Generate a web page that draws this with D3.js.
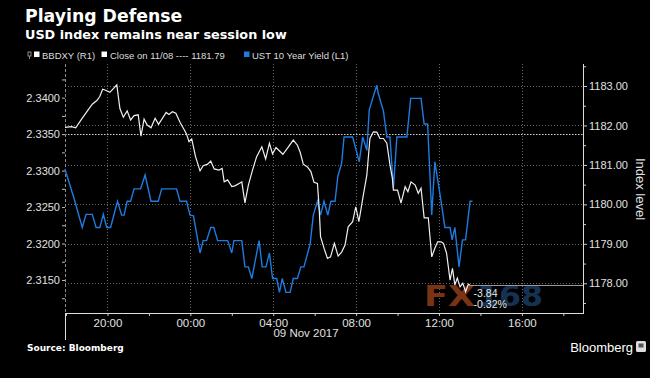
<!DOCTYPE html>
<html><head><meta charset="utf-8">
<script src="https://cdn.jsdelivr.net/npm/d3@7"></script>
<style>
html,body{margin:0;padding:0;background:#000;}
svg{display:block;}
</style></head>
<body>
<svg id="chart" width="650" height="378"></svg>
<script>
// ---- DATA ----
const title = "Playing Defense";
const subtitle = "USD index remains near session low";
const closeValue = 1181.79;
const changeLabel = "-3.84";
const changePctLabel = "-0.32%";
const leftTicks = [2.3150, 2.3200, 2.3250, 2.3300, 2.3350, 2.3400];
const rightTicks = [1178, 1179, 1180, 1181, 1182, 1183];
const xDateLabel = "09 Nov 2017";

// BBDXY (right axis) times (day hh:mm) and values
const bbdxyTimes = ["8 17:57","8 18:16","8 18:28","8 18:45","8 19:02","8 19:16","8 19:30","8 19:38","8 19:46","8 19:53","8 20:07","8 20:27","8 20:36","8 20:46","8 20:57","8 21:07","8 21:17","8 21:29","8 21:37","8 21:46","8 21:55","8 22:06","8 22:18","8 22:28","8 22:50","8 22:58","8 23:08","8 23:18","8 23:30","8 23:43","8 23:49","8 23:56","9 00:04","9 00:15","9 00:28","9 00:37","9 00:50","9 00:59","9 01:09","9 01:23","9 01:32","9 01:38","9 01:48","9 02:00","9 02:09","9 02:21","9 02:29","9 02:38","9 02:48","9 03:00","9 03:12","9 03:27","9 03:38","9 03:49","9 03:58","9 04:08","9 04:28","9 04:44","9 04:58","9 05:10","9 05:18","9 05:27","9 05:39","9 05:49","9 05:58","9 06:08","9 06:13","9 06:17","9 06:27","9 06:37","9 06:46","9 06:57","9 07:08","9 07:18","9 07:28","9 07:37","9 07:50","9 07:59","9 08:08","9 08:21","9 08:31","9 08:40","9 08:50","9 09:00","9 09:09","9 09:19","9 09:29","9 09:38","9 09:45","9 09:48","9 10:00","9 10:10","9 10:22","9 10:30","9 10:39","9 10:51","9 11:00","9 11:08","9 11:17","9 11:29","9 11:39","9 11:48","9 11:56","9 12:06","9 12:13","9 12:22","9 12:32","9 12:39","9 12:46","9 12:53","9 13:01","9 13:09","9 13:17","9 13:25","9 13:30"];
const bbdxyValues = [1181.95,1181.97,1181.94,1182.16,1182.37,1182.54,1182.64,1182.74,1182.92,1182.90,1182.84,1183.03,1182.43,1182.21,1182.37,1182.14,1182.25,1182.27,1181.73,1182.16,1182.01,1181.94,1182.18,1182.03,1182.33,1182.28,1182.35,1182.31,1182.08,1181.88,1181.78,1181.59,1181.66,1181.21,1180.85,1180.98,1181.02,1181.10,1180.90,1180.87,1180.91,1180.57,1180.62,1180.45,1180.47,1180.53,1180.57,1180.04,1180.49,1180.87,1181.21,1181.46,1181.15,1181.55,1181.28,1181.44,1181.27,1181.46,1181.63,1181.50,1181.32,1181.02,1180.95,1180.83,1180.56,1180.53,1179.90,1179.18,1178.89,1178.63,1178.67,1179.01,1178.69,1178.79,1178.97,1179.43,1179.56,1179.94,1179.56,1180.24,1180.74,1181.67,1181.84,1181.83,1181.67,1181.67,1181.55,1181.00,1180.66,1180.36,1180.36,1180.03,1180.45,1180.32,1180.57,1180.49,1180.28,1180.41,1179.66,1179.66,1178.67,1178.89,1179.05,1179.05,1179.01,1178.76,1178.08,1178.38,1177.96,1178.13,1177.91,1178.00,1177.79,1177.98,1177.95];

// UST 10 Year Yield (left axis)
const ustTimes = ["8 17:57","8 18:23","8 18:47","8 18:58","8 19:16","8 19:27","8 19:38","8 19:48","8 19:58","8 20:09","8 20:29","8 20:41","8 20:48","8 20:57","8 21:07","8 21:17","8 21:36","8 21:49","8 22:06","8 22:27","8 22:37","8 23:20","8 23:30","8 23:49","8 23:59","9 00:09","9 00:28","9 00:37","9 00:47","9 00:59","9 01:08","9 01:19","9 01:48","9 02:00","9 02:06","9 02:29","9 02:38","9 02:48","9 02:58","9 03:19","9 03:28","9 03:39","9 03:49","9 03:58","9 04:10","9 04:18","9 04:26","9 04:37","9 04:49","9 04:58","9 05:10","9 05:20","9 05:29","9 05:37","9 05:47","9 05:56","9 06:08","9 06:17","9 06:27","9 06:38","9 06:47","9 06:59","9 07:07","9 07:18","9 07:25","9 07:50","9 08:09","9 08:19","9 08:31","9 08:38","9 08:48","9 09:00","9 09:04","9 09:19","9 09:29","9 09:38","9 09:48","9 09:58","9 10:27","9 10:38","9 11:08","9 11:17","9 11:27","9 11:39","9 11:48","9 12:06","9 12:17","9 12:32","9 12:38","9 12:46","9 12:58","9 13:08","9 13:17","9 13:30","9 13:37"];
const ustValues = [2.3302,2.3262,2.3222,2.3240,2.3240,2.3222,2.3222,2.3240,2.3222,2.3222,2.3258,2.3239,2.3239,2.3258,2.3258,2.3275,2.3275,2.3294,2.3258,2.3258,2.3275,2.3275,2.3258,2.3258,2.3239,2.3238,2.3187,2.3204,2.3204,2.3222,2.3222,2.3204,2.3204,2.3187,2.3204,2.3204,2.3168,2.3168,2.3152,2.3204,2.3168,2.3168,2.3187,2.3152,2.3152,2.3133,2.3152,2.3133,2.3133,2.3152,2.3152,2.3168,2.3168,2.3182,2.3200,2.3239,2.3258,2.3239,2.3258,2.3239,2.3258,2.3258,2.3292,2.3310,2.3346,2.3346,2.3312,2.3346,2.3328,2.3383,2.3399,2.3417,2.3406,2.3382,2.3346,2.3346,2.3276,2.3346,2.3346,2.3399,2.3399,2.3364,2.3364,2.3239,2.3312,2.3258,2.3222,2.3222,2.3205,2.3222,2.3168,2.3205,2.3205,2.3258,2.3258];

// ---- CHART ----
const parse = s => { const [d, hm] = s.split(" "); const [h, m] = hm.split(":").map(Number); return new Date(2017, 10, +d, h, m); };
const bbdxy = bbdxyTimes.map((t, i) => ({t: parse(t), v: bbdxyValues[i]}));
const ust = ustTimes.map((t, i) => ({t: parse(t), v: ustValues[i]}));

const L = 65, R = 583, T = 64, B = 313;
const svg = d3.select("#chart");
svg.append("rect").attr("width", 650).attr("height", 378).attr("fill", "#000");

const x = d3.scaleTime().domain([new Date(2017,10,8,17,57), new Date(2017,10,9,18,57)]).range([L, R]);
const yL = d3.scaleLinear().domain([2.31047, 2.34462]).range([B, T]);
const yR = d3.scaleLinear().domain([1177.247, 1183.558]).range([B, T]);

const smallFont = "'Liberation Sans', Arial, sans-serif";

// Title
svg.append("text").attr("x", 25).attr("y", 22).attr("fill", "#fff")
  .attr("font-family", "'DejaVu Sans', sans-serif").attr("font-weight", "bold").attr("font-size", 17.3).text(title);
svg.append("text").attr("x", 25).attr("y", 38.5).attr("fill", "#fff")
  .attr("font-family", "'DejaVu Sans', sans-serif").attr("font-weight", "bold").attr("font-size", 12.8).text(subtitle);

// Legend
const lg = svg.append("g").attr("font-family", smallFont).attr("font-size", 9.5).attr("fill", "#ddd");
lg.append("rect").attr("x", 28).attr("y", 52).attr("width", 3).attr("height", 4).attr("fill", "none").attr("stroke", "#aaa").attr("stroke-width", 0.8);
lg.append("line").attr("x1", 29.5).attr("x2", 29.5).attr("y1", 56).attr("y2", 59).attr("stroke", "#aaa").attr("stroke-width", 0.8);
lg.append("rect").attr("x", 34).attr("y", 51.5).attr("width", 5.5).attr("height", 5.5).attr("fill", "#fff");
lg.append("text").attr("x", 42).attr("y", 58.5).text("BBDXY (R1)");
lg.append("rect").attr("x", 101.5).attr("y", 51.5).attr("width", 5.5).attr("height", 5.5).attr("fill", "#fff");
lg.append("text").attr("x", 110).attr("y", 58.5).text("Close on 11/08 ---- " + closeValue.toFixed(2));
lg.append("rect").attr("x", 244).attr("y", 51.5).attr("width", 5.5).attr("height", 5.5).attr("fill", "#1e7be0");
lg.append("text").attr("x", 252).attr("y", 58.5).text("UST 10 Year Yield (L1)");

// Grid
const grid = svg.append("g");
grid.selectAll("line.hg").data(rightTicks).join("line")
  .attr("x1", L).attr("x2", R).attr("y1", d => Math.round(yR(d)) + 0.5).attr("y2", d => Math.round(yR(d)) + 0.5)
  .attr("stroke", "#6a6a6a").attr("stroke-width", 1).attr("stroke-dasharray", "1,2");
const majorX = x.ticks(d3.timeHour.every(4));
grid.selectAll("line.vg").data(majorX).join("line")
  .attr("x1", d => Math.round(x(d)) + 0.5).attr("x2", d => Math.round(x(d)) + 0.5).attr("y1", T).attr("y2", B)
  .attr("stroke", "#6a6a6a").attr("stroke-width", 1).attr("stroke-dasharray", "1,2");
// close line
grid.append("line").attr("x1", L).attr("x2", R).attr("y1", Math.round(yR(closeValue)) + 0.5).attr("y2", Math.round(yR(closeValue)) + 0.5)
  .attr("stroke", "#d8d8d8").attr("stroke-width", 1).attr("stroke-dasharray", "1.5,1.5");

// Watermark
svg.append("text").attr("x", 424).attr("y", 306).attr("font-family", "'DejaVu Sans', sans-serif")
  .attr("font-weight", "bold").attr("font-size", 29).attr("fill", "#7b3413")
  .attr("textLength", 51).attr("lengthAdjust", "spacingAndGlyphs").text("FX");
svg.append("text").attr("x", 477).attr("y", 306).attr("font-family", "'DejaVu Sans', sans-serif")
  .attr("font-weight", "bold").attr("font-size", 29).attr("fill", "#163252")
  .attr("textLength", 66).attr("lengthAdjust", "spacingAndGlyphs").text("168");

// Axes
const leftAxis = d3.axisLeft(yL).tickValues(leftTicks).tickFormat(d3.format(".4f")).tickSize(3).tickPadding(2);
const gL = svg.append("g").attr("transform", `translate(${L},0)`).call(leftAxis);
const leftMinor = d3.axisLeft(yL).tickValues(leftTicks.map(d => d + 0.0025).concat([leftTicks[0] - 0.0025])).tickFormat("").tickSize(3);
const gLm = svg.append("g").attr("transform", `translate(${L},0)`).call(leftMinor);
[gL, gLm].forEach(g => {
  g.select(".domain").remove();
  g.selectAll("line").attr("stroke", "#bbb");
  g.selectAll("text").attr("fill", "#e0e0e0").attr("font-family", smallFont).attr("font-size", 11);
});
svg.append("line").attr("x1", L + 0.5).attr("x2", L + 0.5).attr("y1", T).attr("y2", B)
  .attr("stroke", "#888").attr("stroke-dasharray", "3,2");

const rightAxis = d3.axisRight(yR).tickValues(rightTicks).tickFormat(d3.format(".2f")).tickSize(4).tickPadding(2);
const gR = svg.append("g").attr("transform", `translate(${R},0)`).call(rightAxis);
const rightMinor = d3.axisRight(yR).tickValues(rightTicks.map(d => d - 0.5).concat([1183.5])).tickFormat("").tickSize(3);
const gRm = svg.append("g").attr("transform", `translate(${R},0)`).call(rightMinor);
[gR, gRm].forEach(g => {
  g.select(".domain").remove();
  g.selectAll("line").attr("stroke", "#ccc");
  g.selectAll("text").attr("fill", "#e0e0e0").attr("font-family", smallFont).attr("font-size", 11);
});
svg.append("line").attr("x1", R + 0.5).attr("x2", R + 0.5).attr("y1", T).attr("y2", B + 0.5).attr("stroke", "#ddd");

svg.append("text").attr("transform", "translate(636,189) rotate(90)").attr("text-anchor", "middle")
  .attr("fill", "#e0e0e0").attr("font-family", smallFont).attr("font-size", 13).text("Index level");

const bottomAxis = d3.axisBottom(x).ticks(d3.timeHour.every(4)).tickFormat(d3.timeFormat("%H:%M")).tickSize(0).tickPadding(6);
const gB = svg.append("g").attr("transform", `translate(0,${B})`).call(bottomAxis);
gB.select(".domain").remove();
gB.selectAll("text").attr("fill", "#e0e0e0").attr("font-family", smallFont).attr("font-size", 11.5);
const minorAxis = d3.axisBottom(x).ticks(d3.timeHour.every(2)).tickFormat("").tickSize(3);
const gBm = svg.append("g").attr("transform", `translate(0,${B})`).call(minorAxis);
gBm.select(".domain").remove();
gBm.selectAll("line").attr("stroke", "#ccc");
svg.append("line").attr("x1", L).attr("x2", R + 1).attr("y1", B + 0.5).attr("y2", B + 0.5).attr("stroke", "#ddd");
svg.append("line").attr("x1", L + 0.5).attr("x2", L + 0.5).attr("y1", B).attr("y2", 340).attr("stroke", "#ddd");
svg.append("text").attr("x", 306).attr("y", 337).attr("text-anchor", "middle")
  .attr("fill", "#e0e0e0").attr("font-family", smallFont).attr("font-size", 11.5).text(xDateLabel);

// Lines
const lineR = d3.line().x(d => x(d.t)).y(d => yR(d.v));
const lineL = d3.line().x(d => x(d.t)).y(d => yL(d.v));
const last = bbdxy[bbdxy.length - 1];
svg.append("line").attr("x1", x(last.t)).attr("x2", R).attr("y1", Math.round(yR(last.v)) + 0.5).attr("y2", Math.round(yR(last.v)) + 0.5)
  .attr("stroke", "#999").attr("stroke-width", 1);
svg.append("path").datum(ust).attr("d", lineL).attr("fill", "none").attr("stroke", "#1e7be0").attr("stroke-width", 1.4);
svg.append("path").datum(bbdxy).attr("d", lineR).attr("fill", "none").attr("stroke", "#f0f0f0").attr("stroke-width", 1.2);

// Change labels
svg.append("text").attr("x", x(last.t) + 3.5).attr("y", 297).attr("fill", "#e8e8e8")
  .attr("font-family", smallFont).attr("font-size", 10.5).text(changeLabel);
svg.append("text").attr("x", x(last.t) + 3.5).attr("y", 308).attr("fill", "#e8e8e8")
  .attr("font-family", smallFont).attr("font-size", 10.5).text(changePctLabel);

// Footer
svg.append("text").attr("x", 27).attr("y", 351).attr("fill", "#fff")
  .attr("font-family", "'DejaVu Sans', sans-serif").attr("font-weight", "bold").attr("font-size", 9).text("Source: Bloomberg");
svg.append("text").attr("x", 633).attr("y", 352).attr("text-anchor", "end").attr("fill", "#fff")
  .attr("font-family", smallFont).attr("font-size", 13).text("Bloomberg");
svg.append("rect").attr("x", 636).attr("y", 341).attr("width", 10).attr("height", 11).attr("rx", 1.5).attr("fill", "#ddd");
svg.append("rect").attr("x", 638.5).attr("y", 343.5).attr("width", 5).attr("height", 4).attr("fill", "#555");
</script>
</body></html>
